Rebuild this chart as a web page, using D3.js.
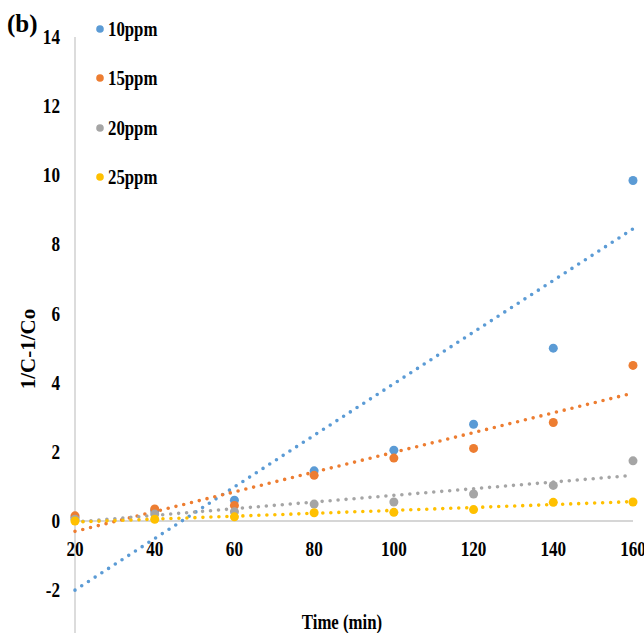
<!DOCTYPE html>
<html><head><meta charset="utf-8">
<script src="https://cdn.jsdelivr.net/npm/d3@7"></script>
<style>body{margin:0;background:#fff}svg{display:block}text{font-family:"Liberation Serif","Times New Roman",serif;font-weight:bold;fill:#000}</style>
</head><body><svg id="c" width="644" height="633"></svg>
<script>
const times = [20, 40, 60, 80, 100, 120, 140, 160];
const seriesNames = ["10ppm", "15ppm", "20ppm", "25ppm"];
const ppm10 = [0.1, 0.3, 0.6, 1.45, 2.05, 2.8, 5.0, 9.85];
const ppm15 = [0.15, 0.35, 0.45, 1.32, 1.82, 2.1, 2.85, 4.5];
const ppm20 = [0.05, 0.2, 0.27, 0.49, 0.55, 0.78, 1.03, 1.74];
const ppm25 = [0.0, 0.05, 0.12, 0.24, 0.25, 0.33, 0.54, 0.55];
// trendline values at t=20 and t=160
const trend10 = [-2.0, 8.45];
const trend15 = [-0.3, 3.7];
const trend20 = [-0.03, 1.32];
const trend25 = [-0.03, 0.56];
const colors = ["#5B9BD5", "#ED7D31", "#A5A5A5", "#FFC000"];
const xTicks = [20, 40, 60, 80, 100, 120, 140, 160];
const yTicks = [-2, 0, 2, 4, 6, 8, 10, 12, 14];

const series = [ppm10, ppm15, ppm20, ppm25];
const trends = [trend10, trend15, trend20, trend25];

const svg = d3.select("#c");
const x = d3.scaleLinear().domain([20, 160]).range([75, 633]);
const y = d3.scaleLinear().domain([0, 14]).range([521, 37]);

function sText(px, py, str, size, anchor, sx) {
  return svg.append("text")
    .attr("transform", `translate(${px},${py}) scale(${sx},1)`)
    .attr("text-anchor", anchor).attr("font-size", size).text(str);
}

// axes lines
svg.append("line").attr("x1", x(20)).attr("x2", x(20)).attr("y1", y(14)).attr("y2", 633)
  .attr("stroke", "#d0d0d0").attr("stroke-width", 1.5);
svg.append("line").attr("x1", x(20)).attr("x2", x(160)).attr("y1", y(0)).attr("y2", y(0))
  .attr("stroke", "#c8c8c8").attr("stroke-width", 1.5);

// tick labels
yTicks.forEach(d => sText(60, y(d) + 7, d, 22, "end", 0.78));
xTicks.forEach(d => sText(x(d), 556, d, 22, "middle", 0.78));

// trendlines
trends.forEach((t, i) => {
  svg.append("line").attr("x1", x(20)).attr("x2", x(160))
    .attr("y1", y(t[0])).attr("y2", y(t[1]))
    .attr("stroke", colors[i]).attr("stroke-width", 3.6)
    .attr("stroke-linecap", "round").attr("stroke-dasharray", "0 8");
});

// points
series.forEach((s, i) => {
  svg.selectAll(".p" + i).data(s).enter().append("circle")
    .attr("cx", (d, j) => x(times[j])).attr("cy", d => y(d)).attr("r", 4.5)
    .attr("fill", colors[i]);
});

// legend
const legY = [29, 78, 128, 177];
seriesNames.forEach((n, i) => {
  svg.append("circle").attr("cx", 100).attr("cy", legY[i]).attr("r", 3.8).attr("fill", colors[i]);
  sText(108, legY[i] + 6.5, n, 21, "start", 0.8);
});

// titles
svg.append("text").attr("x", 7).attr("y", 32).attr("font-size", 25).text("(b)");
svg.append("text").attr("transform", "translate(35,349) rotate(-90)")
  .attr("text-anchor", "middle").attr("font-size", 21).text("1/C-1/Co");
sText(342, 629, "Time (min)", 21, "middle", 0.8);
</script></body></html>
